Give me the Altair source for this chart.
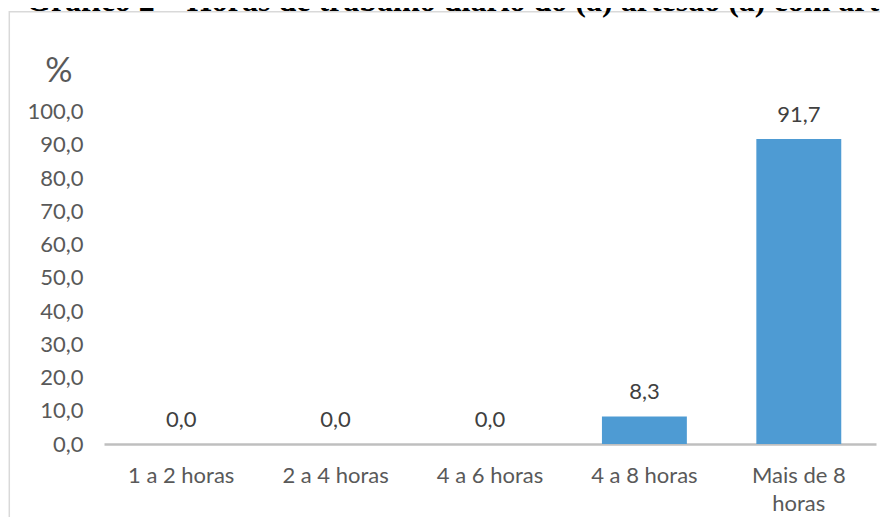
import altair as alt
import pandas as pd

categories = ["1 a 2 horas", "2 a 4 horas", "4 a 6 horas", "4 a 8 horas", "Mais de 8 horas"]
values = [0.0, 0.0, 0.0, 8.3, 91.7]
y_ticks = [0, 10, 20, 30, 40, 50, 60, 70, 80, 90, 100]
title_text = "Gráfico 2 – Horas de trabalho diário do (a) artesão (a) com arte"

df = pd.DataFrame({"cat": categories, "val": values})

LABEL_FONT = "Lato"
AXIS_GRAY = "#595959"
FS = 22

x_enc = alt.X(
    "cat:N",
    sort=categories,
    scale=alt.Scale(paddingInner=0.45, paddingOuter=0.225),
    axis=alt.Axis(
        title=None,
        labelAngle=0,
        domainColor="#BFBFBF",
        domainWidth=2.5,
        ticks=False,
        labelPadding=21.5,
        labelExpr="datum.label == 'Mais de 8 horas' ? ['Mais de 8', 'horas'] : datum.label",
        labelLineHeight=28,
        labelFont=LABEL_FONT,
        labelFontSize=FS,
        labelColor=AXIS_GRAY,
        labelLimit=300,
    ),
)
y_enc = alt.Y(
    "val:Q",
    scale=alt.Scale(domain=[0, 100], nice=False),
    axis=alt.Axis(
        values=y_ticks,
        labelExpr="replace(format(datum.value, '.1f'), '.', ',')",
        domain=False,
        ticks=False,
        grid=False,
        labelFont=LABEL_FONT,
        labelFontSize=FS,
        labelColor=AXIS_GRAY,
        labelPadding=21,
        title="%",
        titleAngle=0,
        titleX=-45.7,
        titleY=-29.8,
        titleAlign="center",
        titleBaseline="alphabetic",
        titleFont=LABEL_FONT,
        titleFontSize=34,
        titleFontWeight="normal",
        titleColor=AXIS_GRAY,
    ),
)

base = alt.Chart(df)

frame = alt.Chart(alt.Data(values=[{}])).mark_rect(
    filled=False, stroke="#D9D9D9", strokeWidth=1.5
).encode(
    x=alt.value(-94.7), x2=alt.value(900), y=alt.value(-99.8), y2=alt.value(600)
)

heading = alt.Chart(alt.Data(values=[{}])).mark_text(
    align="left",
    baseline="alphabetic",
    font="Liberation Serif",
    fontSize=32,
    fontWeight="bold",
    color="black",
).encode(x=alt.value(-78), y=alt.value(-101), text=alt.value(title_text))

bars = base.mark_bar(color="#4E9BD3").encode(x=x_enc, y=y_enc)

labels = base.transform_calculate(
    lbl="replace(format(datum.val, '.1f'), '.', ',')"
).mark_text(
    dy=-17.5, baseline="alphabetic", font=LABEL_FONT, fontSize=FS, color="#404040"
).encode(x=x_enc, y=y_enc, text="lbl:N")

chart = alt.layer(frame, heading, bars, labels).properties(
    width=772,
    height=332.5,
    padding={"left": 96, "top": 103.5, "right": 4, "bottom": 73},
    autosize="none",
).configure_view(stroke=None)

chart.save("out.html", embed_options={"renderer": "svg", "actions": False})
